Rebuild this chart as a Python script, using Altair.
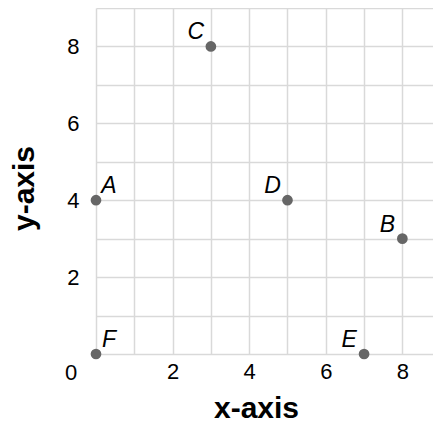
import altair as alt
import pandas as pd

names = ["A", "B", "C", "D", "E", "F"]
xs = [0, 8, 3, 5, 7, 0]
ys = [4, 3, 8, 4, 0, 0]
side = ["right", "left", "left", "left", "left", "right"]
x_grid = list(range(0, 9))
y_grid = list(range(0, 10))

df = pd.DataFrame({"name": names, "x": xs, "y": ys, "side": side})
origin = pd.DataFrame({"x": [0], "y": [0], "t": ["0"]})

FONT = "Liberation Sans"
label_expr = "datum.value % 2 == 0 && datum.value > 0 ? datum.label : ''"

xscale = alt.Scale(domain=[0, 8.8], nice=False, zero=False)
yscale = alt.Scale(domain=[0, 9], nice=False, zero=False)

x_axis = alt.Axis(values=x_grid, labelExpr=label_expr, ticks=False, domain=False,
                  grid=True, gridColor="#d9d9d9", gridWidth=1.5, labelOverlap=False,
                  labelFont=FONT, labelFontSize=22, labelColor="#000", labelPadding=7,
                  labelAngle=0, title="x-axis", titleFont=FONT, titleFontSize=30,
                  titleFontWeight="bold", titleColor="#000",
                  titleX=160, titleY=63, titleBaseline="alphabetic")
y_axis = alt.Axis(values=y_grid, labelExpr=label_expr, ticks=False, domain=False,
                  grid=True, gridColor="#d9d9d9", gridWidth=1.5, labelOverlap=False,
                  labelFont=FONT, labelFontSize=22, labelColor="#000", labelPadding=17,
                  title="y-axis", titleFont=FONT, titleFontSize=30,
                  titleFontWeight="bold", titleColor="#000",
                  titleX=-57, titleY=180)

X = alt.X("x:Q", scale=xscale, axis=x_axis)
Y = alt.Y("y:Q", scale=yscale, axis=y_axis)

base = alt.Chart(df)
points = base.mark_circle(size=115, color="#666666", opacity=1).encode(x=X, y=Y)
right_labels = base.transform_filter("datum.side == 'right'").mark_text(
    font=FONT, fontSize=23, fontStyle="italic", color="#000", dx=13, dy=-14
).encode(x=X, y=Y, text="name:N")
left_labels = base.transform_filter("datum.side == 'left'").mark_text(
    font=FONT, fontSize=23, fontStyle="italic", color="#000", dx=-15, dy=-14
).encode(x=X, y=Y, text="name:N")
zero_label = alt.Chart(origin).mark_text(
    font=FONT, fontSize=22, color="#000", dx=-25, dy=19
).encode(x=X, y=Y, text="t:N")

chart = alt.layer(points, right_labels, left_labels, zero_label).properties(
    width=337, height=346,
    autosize=alt.AutoSizeParams(type="none"),
    padding={"left": 88, "top": 0, "right": 0, "bottom": 70},
).configure_view(stroke=None)

chart.save("out.html", embed_options={"renderer": "svg", "actions": False})
